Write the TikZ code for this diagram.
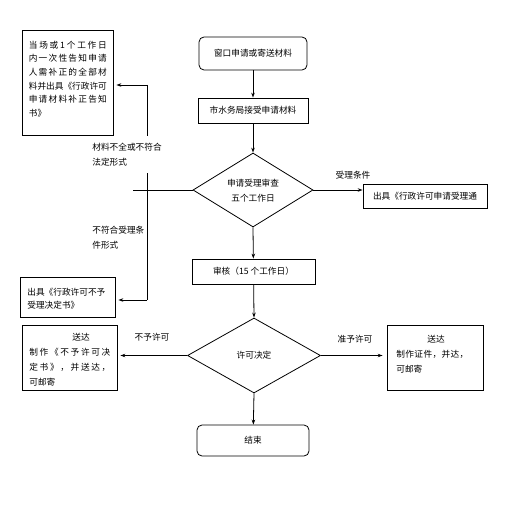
\documentclass[tikz,border=0pt]{standalone}
\usepackage{fontspec}
\newfontfamily\cjk{Noto Sans CJK SC}
\usetikzlibrary{shapes.geometric,arrows.meta}
\def\sprA#1#2\sprEnd{#1\ifx\relax#2\relax\else\hfil\sprA#2\sprEnd\fi}
\newcommand\spreadln[2]{\hbox to #1{\sprA #2\sprEnd}}
\begin{document}
\begin{tikzpicture}[x=1bp,y=-1bp,
  font=\cjk\fontsize{8.7}{15}\selectfont, line width=0.8bp,
  >={Stealth[length=5bp,width=3.5bp]},
  sbox/.style={draw, rectangle, inner sep=0pt},
  rbox/.style={draw, rectangle, rounded corners=5bp, inner sep=0pt},
  dia/.style={draw, diamond, inner sep=0pt},
  txt/.style={inner sep=0pt},
  lab/.style={fill=white, inner xsep=2bp, inner ysep=7bp, align=left}]
\useasboundingbox (0,0) rectangle (530,507);
\fill[white] (0,0) rectangle (530,507);
% main column
\node[rbox, minimum width=108bp, minimum height=33bp] (start) at (253,53.5) {窗口申请或寄送材料};
\node[sbox, minimum width=110bp, minimum height=25bp] (recv) at (253,110.5) {市水务局接受申请材料};
\node[dia, minimum width=120bp, minimum height=74bp] (d1) at (253,190) {};
\node[txt, align=center] (d1t) at (253,190.5) {申请受理审查\\五个工作日};
\node[sbox, minimum width=124bp, minimum height=24bp] (accept) at (425,196) {出具《行政许可申请受理通};
\node[sbox, minimum width=123bp, minimum height=25bp] (review) at (253.5,271.5) {审核（15 个工作日）};
\node[dia, minimum width=133bp, minimum height=75bp] (d2) at (254,355.5) {许可决定};
\node[rbox, minimum width=112bp, minimum height=31bp] (fin) at (253,440.5) {结束};
% left boxes
\node[sbox, minimum width=91bp, minimum height=105bp] (box1) at (67.5,82.5) {};
\node[txt, align=left, font=\cjk\fontsize{8.7}{13.7}\selectfont] (box1t) at (69,79) {%
\spreadln{78bp}{当场或1个工作日}\\
\spreadln{78bp}{内一次性告知申请}\\
\spreadln{78bp}{人需补正的全部材}\\
\spreadln{78bp}{料并出具《行政许可}\\
\spreadln{78bp}{申请材料补正告知}\\
书》\hspace*{63bp}};
\node[sbox, minimum width=95bp, minimum height=40bp] (box2) at (67.5,297) {};
\node[txt, anchor=west, align=left, font=\cjk\fontsize{8.7}{13}\selectfont] (box2t) at (27,298.5) {出具《行政许可不予\\受理决定书》};
\node[sbox, minimum width=95bp, minimum height=65bp] (lbox) at (69.5,357.5) {};
\node[txt, anchor=west, align=left] (lboxt) at (29,359.5) {%
\hspace*{43bp}送达\\
\spreadln{81bp}{制作《不予许可决}\\
\spreadln{81bp}{定书》，并送达，}\\
可邮寄};
\node[sbox, minimum width=96bp, minimum height=65bp] (rbox) at (435,357.5) {};
\node[txt, anchor=west, align=left] (rboxt) at (396,354) {%
\hspace*{31bp}送达\\
\spreadln{72bp}{制作证件，并达，}\\
可邮寄};
% connectors
\draw[->] (start) -- (recv);
\draw[->] (recv) -- (d1.north);
\draw[->] (d1.south) -- (review);
\draw[->] (review) -- (d2.north);
\draw[->] (d2.south) -- (fin);
\draw[->] (d1.east) -- (d1.east -| accept.west);
\draw[->, shorten >=4bp] (d2.east) -- (d2.east -| rbox.west);
\draw[->, shorten >=3bp] (d2.west) -- (d2.west -| lbox.east);
\coordinate (jtop) at (147,85);
\coordinate (jbot) at (147,300);
\coordinate (stub) at (133,190);
\draw (d1.west) -- (stub);
\draw (jtop) -- (jbot);
\draw[->, shorten >=3bp] (jtop) -- (jtop -| box1.east);
\draw[->, shorten >=3bp] (jbot) -- (jbot -| box2.east);
% labels
\node[lab, anchor=west] (l1) at (90,154.5) {材料不全或不符合\\法定形式};
\node[lab, anchor=west] (l2) at (90,237.5) {不符合受理条\\件形式};
\node[txt] (l3) at (353,175) {受理条件};
\node[txt] (l4) at (152,337) {不予许可};
\node[txt] (l5) at (355,339) {准予许可};
\end{tikzpicture}
\end{document}
